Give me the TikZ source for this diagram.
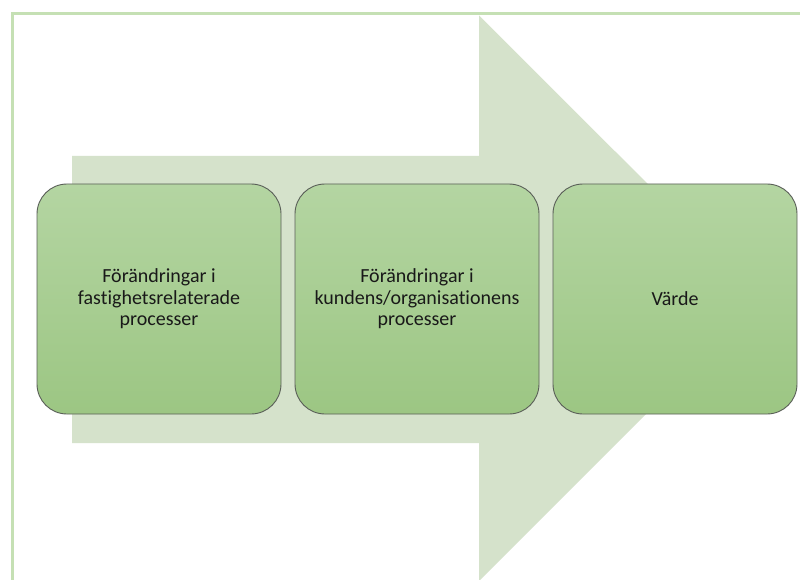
\documentclass[tikz,border=0pt]{standalone}
\usepackage{fontspec}
\setmainfont[Ligatures=NoCommon]{Carlito}
\definecolor{framegreen}{HTML}{C5E0B4}
\definecolor{arrowgreen}{HTML}{D5E2CB}
\definecolor{boxtop}{HTML}{B4D5A2}
\definecolor{boxbot}{HTML}{9CC683}
\definecolor{boxline}{HTML}{5A5F58}
\tikzset{
  stagebox/.style={draw=boxline, line width=0.9pt, rounded corners=30pt,
    top color=boxtop, bottom color=boxbot,
    minimum width=244pt, minimum height=230pt, align=center,
    font=\fontsize{20}{21.5}\selectfont, text=black!90, inner sep=0pt}
}
\begin{document}
\begin{tikzpicture}[x=1pt,y=-1pt]
\useasboundingbox (0,0) rectangle (800,580);
\fill[white] (0,0) rectangle (800,580);
% frame
\draw[framegreen, line width=3pt] (12,581) -- (12,14) -- (801,14);
% big arrow
\fill[arrowgreen] (72,156) -- (479,156) -- (479,15.5) -- (762,298) -- (479,581) -- (479,443) -- (72,443) -- cycle;
% boxes
\node[stagebox] (a) at (159,299) {Förändringar i\\fastighetsrelaterade\\processer};
\node[stagebox] (b) at (417,299) {Förändringar i\\kundens/organisationens\\processer};
\node[stagebox] (c) at (675,299) {Värde};
\end{tikzpicture}
\end{document}
